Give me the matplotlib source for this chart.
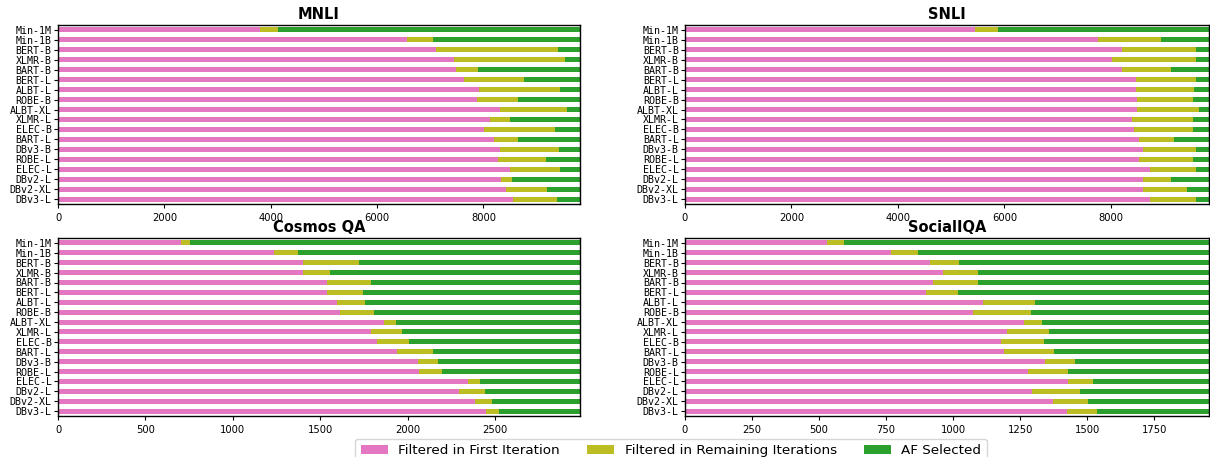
import numpy as np
import matplotlib
matplotlib.use("Agg")
import matplotlib.pyplot as plt

# Model names (top to bottom)
models = ["Min-1M", "Min-1B", "BERT-B", "XLMR-B", "BART-B", "BERT-L", "ALBT-L", "ROBE-B",
          "ALBT-XL", "XLMR-L", "ELEC-B", "BART-L", "DBv3-B", "ROBE-L", "ELEC-L", "DBv2-L",
          "DBv2-XL", "DBv3-L"]

# Dataset sizes (dev sets)
totals = {"MNLI": 9815, "SNLI": 9842, "Cosmos QA": 2985, "SocialIQA": 1954}

# Filtered in first iteration
mnli_first = [3795, 6570, 7109, 7454, 7476, 7641, 7914, 7885, 8302, 8130, 8007, 8202, 8302, 8273, 8503, 8331, 8431, 8561]
snli_first = [5456, 7766, 8206, 8023, 8206, 8477, 8477, 8499, 8492, 8389, 8433, 8536, 8609, 8536, 8741, 8594, 8609, 8741]
cosmos_first = [701, 1233, 1401, 1401, 1536, 1536, 1593, 1611, 1864, 1790, 1825, 1941, 2061, 2065, 2343, 2292, 2384, 2450]
siqa_first = [530, 768, 913, 962, 924, 899, 1112, 1074, 1265, 1202, 1179, 1190, 1342, 1278, 1429, 1295, 1374, 1423]

# Cumulative end of "filtered in remaining iterations"
mnli_cum = [4133, 7051, 9409, 9524, 7900, 8769, 9438, 8647, 9574, 8503, 9344, 8647, 9416, 9179, 9438, 8539, 9201, 9387]
snli_cum = [5888, 8932, 9592, 9592, 9122, 9592, 9563, 9548, 9651, 9548, 9548, 9181, 9592, 9533, 9592, 9137, 9423, 9592]
cosmos_cum = [756, 1370, 1724, 1558, 1792, 1742, 1757, 1809, 1934, 1965, 2008, 2146, 2174, 2198, 2415, 2443, 2483, 2522]
siqa_cum = [594, 868, 1021, 1093, 1093, 1017, 1307, 1291, 1333, 1359, 1340, 1377, 1455, 1429, 1520, 1474, 1501, 1538]

data = {
    "MNLI": (mnli_first, mnli_cum),
    "SNLI": (snli_first, snli_cum),
    "Cosmos QA": (cosmos_first, cosmos_cum),
    "SocialIQA": (siqa_first, siqa_cum),
}

colors = ["#e377c2", "#bcbd22", "#2ca02c"]
labels = ["Filtered in First Iteration", "Filtered in Remaining Iterations", "AF Selected"]

fig = plt.figure(figsize=(12.1, 4.57), dpi=100)
W, H = 1210, 457
# axes boxes in pixels: left, right, top, bottom
boxes = {
    "MNLI": (58, 580, 25, 204),
    "SNLI": (685, 1209, 25, 204),
    "Cosmos QA": (58, 580, 238, 416),
    "SocialIQA": (685, 1209, 238, 416),
}

y = np.arange(len(models))
for name, (first, cum) in data.items():
    l, r, t, b = boxes[name]
    ax = fig.add_axes([l / W, 1 - b / H, (r - l) / W, (b - t) / H])
    first = np.array(first)
    cum = np.array(cum)
    rest = cum - first
    sel = totals[name] - cum
    ax.barh(y, first, height=0.5, color=colors[0], label=labels[0])
    ax.barh(y, rest, left=first, height=0.5, color=colors[1], label=labels[1])
    ax.barh(y, sel, left=cum, height=0.5, color=colors[2], label=labels[2])
    ax.set_xlim(0, totals[name])
    ax.set_ylim(len(models) - 0.5, -0.5)
    ax.set_yticks(y)
    ax.set_yticklabels(models, family="DejaVu Sans Mono", fontsize=7.2)
    ax.tick_params(axis="x", labelsize=7.2, length=3)
    ax.tick_params(axis="y", length=3, pad=1.5)
    ax.set_title(name, fontsize=10.5, fontweight="bold", pad=4)
    for s in ax.spines.values():
        s.set_linewidth(1.0)

handles, lbls = ax.get_legend_handles_labels()
fig.legend(handles, lbls, loc="upper center", bbox_to_anchor=(671 / W, 1 - 432 / H),
           ncol=3, fontsize=9.7, frameon=True, columnspacing=2.0)

plt.savefig("out.png", dpi=100)
